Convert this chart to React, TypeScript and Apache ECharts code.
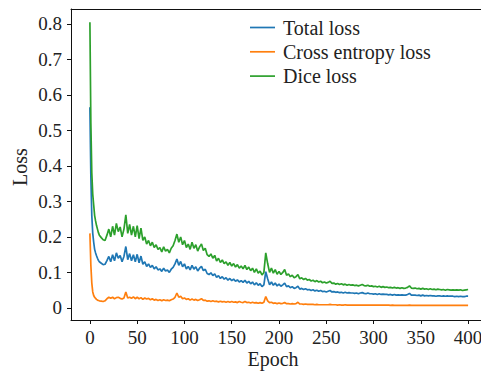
import React, { useEffect, useRef } from "react";
import * as echarts from "echarts";

const epochs = [
  0, 1, 2, 3, 4, 5, 6, 7, 8, 9, 10,
  12, 14, 16, 18, 20, 22, 24, 26, 28, 30,
  32, 34, 36, 38, 40, 42, 44, 46, 48, 50,
  52, 54, 56, 58, 60, 62, 64, 66, 68, 70,
  72, 74, 76, 78, 80, 82, 84, 86, 88, 90,
  92, 94, 96, 98, 100, 102, 104, 106, 108, 110,
  112, 114, 116, 118, 120, 122, 124, 126, 128, 130,
  132, 134, 136, 138, 140, 142, 144, 146, 148, 150,
  152, 154, 156, 158, 160, 162, 164, 166, 168, 170,
  172, 174, 176, 178, 180, 182, 184, 186, 188, 190,
  192, 194, 196, 198, 200, 202, 204, 206, 208, 210,
  212, 214, 216, 218, 220, 222, 224, 226, 228, 230,
  232, 234, 236, 238, 240, 242, 244, 246, 248, 250,
  252, 254, 256, 258, 260, 262, 264, 266, 268, 270,
  272, 274, 276, 278, 280, 282, 284, 286, 288, 290,
  292, 294, 296, 298, 300, 302, 304, 306, 308, 310,
  312, 314, 316, 318, 320, 322, 324, 326, 328, 330,
  332, 334, 336, 338, 340, 342, 344, 346, 348, 350,
  352, 354, 356, 358, 360, 362, 364, 366, 368, 370,
  372, 374, 376, 378, 380, 382, 384, 386, 388, 390,
  392, 394, 396, 398, 400,
];

const totalLoss = [
  0.565, 0.37, 0.26, 0.21, 0.185, 0.165, 0.155, 0.147, 0.14, 0.134, 0.13,
  0.126, 0.122, 0.123, 0.133, 0.145, 0.13, 0.15, 0.133, 0.155, 0.14,
  0.148, 0.13, 0.145, 0.173, 0.136, 0.153, 0.133, 0.15, 0.13, 0.151,
  0.127, 0.146, 0.123, 0.13, 0.117, 0.124, 0.114, 0.12, 0.11, 0.116,
  0.107, 0.11, 0.103, 0.112, 0.104, 0.107, 0.1, 0.109, 0.114, 0.124,
  0.138, 0.12, 0.131, 0.116, 0.124, 0.11, 0.117, 0.107, 0.12, 0.109,
  0.116, 0.104, 0.112, 0.117, 0.105, 0.109, 0.097, 0.094, 0.099, 0.091,
  0.096, 0.086, 0.091, 0.083, 0.088, 0.081, 0.085, 0.078, 0.083, 0.077,
  0.081, 0.075, 0.079, 0.073, 0.077, 0.072, 0.078, 0.07, 0.075, 0.068,
  0.073, 0.065, 0.071, 0.064, 0.068, 0.06, 0.065, 0.102, 0.082, 0.065,
  0.073, 0.064, 0.07, 0.062, 0.067, 0.061, 0.065, 0.07, 0.06, 0.062,
  0.057, 0.06, 0.055, 0.057, 0.061, 0.053, 0.055, 0.052, 0.054, 0.051,
  0.052, 0.049, 0.051, 0.048, 0.05, 0.047, 0.049, 0.046, 0.047, 0.045,
  0.047, 0.049, 0.045, 0.046, 0.044, 0.045, 0.043, 0.044, 0.042, 0.044,
  0.042, 0.043, 0.042, 0.042, 0.041, 0.042, 0.04, 0.042, 0.043, 0.041,
  0.04, 0.042, 0.04, 0.04, 0.039, 0.04, 0.038, 0.04, 0.038, 0.039,
  0.038, 0.038, 0.037, 0.038, 0.036, 0.038, 0.036, 0.037, 0.036, 0.037,
  0.036, 0.036, 0.038, 0.041, 0.036, 0.036, 0.036, 0.035, 0.036, 0.034,
  0.036, 0.034, 0.035, 0.034, 0.035, 0.034, 0.034, 0.033, 0.034, 0.034,
  0.033, 0.034, 0.033, 0.034, 0.033, 0.033, 0.033, 0.032, 0.033, 0.032,
  0.033, 0.032, 0.032, 0.033, 0.033,
];

const crossEntropyLoss = [
  0.21, 0.12, 0.07, 0.045, 0.035, 0.03, 0.027, 0.024, 0.022, 0.021, 0.02,
  0.019, 0.018, 0.02, 0.026, 0.03, 0.027, 0.03, 0.026, 0.029, 0.03,
  0.027, 0.025, 0.028, 0.045, 0.028, 0.03, 0.027, 0.031, 0.026, 0.03,
  0.026, 0.029, 0.024, 0.028, 0.025, 0.027, 0.023, 0.026, 0.022, 0.024,
  0.021, 0.023, 0.02, 0.023, 0.021, 0.022, 0.02, 0.023, 0.025, 0.03,
  0.042, 0.03, 0.033, 0.026, 0.028, 0.024, 0.026, 0.022, 0.025, 0.022,
  0.024, 0.021, 0.023, 0.026, 0.021, 0.022, 0.019, 0.02, 0.018, 0.02,
  0.018, 0.019, 0.017, 0.019, 0.017, 0.018, 0.016, 0.018, 0.016, 0.018,
  0.016, 0.017, 0.015, 0.018, 0.016, 0.015, 0.018, 0.015, 0.016, 0.014,
  0.016, 0.014, 0.015, 0.013, 0.015, 0.013, 0.016, 0.032, 0.02, 0.015,
  0.016, 0.013, 0.014, 0.012, 0.014, 0.012, 0.013, 0.015, 0.012, 0.012,
  0.011, 0.012, 0.011, 0.012, 0.016, 0.011, 0.011, 0.01, 0.011, 0.01,
  0.01, 0.01, 0.01, 0.009, 0.01, 0.009, 0.009, 0.009, 0.009, 0.009,
  0.009, 0.01, 0.009, 0.009, 0.009, 0.008, 0.009, 0.008, 0.008, 0.009,
  0.008, 0.008, 0.008, 0.008, 0.008, 0.008, 0.008, 0.008, 0.008, 0.008,
  0.008, 0.008, 0.008, 0.008, 0.008, 0.008, 0.008, 0.008, 0.008, 0.008,
  0.008, 0.008, 0.008, 0.007, 0.008, 0.007, 0.007, 0.007, 0.007, 0.007,
  0.007, 0.007, 0.007, 0.008, 0.007, 0.007, 0.007, 0.007, 0.007, 0.007,
  0.007, 0.007, 0.007, 0.007, 0.007, 0.007, 0.007, 0.007, 0.007, 0.007,
  0.007, 0.007, 0.007, 0.007, 0.007, 0.007, 0.007, 0.007, 0.007, 0.007,
  0.007, 0.007, 0.007, 0.007, 0.007,
];

const diceLoss = [
  0.805, 0.52, 0.38, 0.32, 0.29, 0.26, 0.245, 0.232, 0.222, 0.212, 0.205,
  0.198, 0.192, 0.19, 0.205, 0.222, 0.2, 0.23, 0.205, 0.238, 0.215,
  0.228, 0.2, 0.222, 0.262, 0.21, 0.235, 0.205, 0.23, 0.2, 0.232,
  0.195, 0.225, 0.19, 0.2, 0.18, 0.19, 0.175, 0.185, 0.17, 0.178,
  0.165, 0.17, 0.158, 0.172, 0.16, 0.165, 0.155, 0.168, 0.175, 0.19,
  0.208, 0.185, 0.2, 0.178, 0.19, 0.17, 0.18, 0.165, 0.185, 0.168,
  0.178, 0.16, 0.172, 0.18, 0.162, 0.168, 0.15, 0.145, 0.152, 0.14,
  0.148, 0.132, 0.14, 0.128, 0.135, 0.125, 0.13, 0.12, 0.128, 0.118,
  0.125, 0.115, 0.122, 0.112, 0.118, 0.11, 0.12, 0.108, 0.115, 0.105,
  0.112, 0.1, 0.11, 0.098, 0.104, 0.093, 0.1, 0.155, 0.125, 0.1,
  0.112, 0.098, 0.108, 0.095, 0.103, 0.094, 0.1, 0.108, 0.092, 0.096,
  0.088, 0.092, 0.085, 0.088, 0.094, 0.082, 0.085, 0.08, 0.083, 0.078,
  0.08, 0.076, 0.078, 0.074, 0.077, 0.073, 0.075, 0.071, 0.073, 0.07,
  0.072, 0.075, 0.069, 0.07, 0.067, 0.069, 0.066, 0.068, 0.065, 0.067,
  0.064, 0.066, 0.064, 0.065, 0.063, 0.064, 0.062, 0.064, 0.066, 0.063,
  0.062, 0.064, 0.061, 0.062, 0.06, 0.061, 0.059, 0.061, 0.058, 0.06,
  0.058, 0.059, 0.057, 0.058, 0.056, 0.058, 0.056, 0.057, 0.055, 0.057,
  0.055, 0.056, 0.058, 0.062, 0.056, 0.055, 0.056, 0.054, 0.055, 0.053,
  0.055, 0.053, 0.054, 0.052, 0.054, 0.052, 0.053, 0.051, 0.053, 0.052,
  0.051, 0.052, 0.05, 0.052, 0.051, 0.05, 0.051, 0.05, 0.051, 0.05,
  0.051, 0.049, 0.05, 0.051, 0.052,
];

const xTicks = [0, 50, 100, 150, 200, 250, 300, 350, 400];
const yTicks = [0, 0.1, 0.2, 0.3, 0.4, 0.5, 0.6, 0.7, 0.8];
const seriesNames = ["Total loss", "Cross entropy loss", "Dice loss"];
const colors = ["#1f77b4", "#ff7f0e", "#2ca02c"];

const FONT = "'Liberation Serif', 'Times New Roman', serif";

export default function App() {
  const ref = useRef<HTMLDivElement>(null);

  useEffect(() => {
    if (!ref.current) return;
    const chart = echarts.init(ref.current, undefined, { renderer: "svg" });
    const pairs = (vals: number[]) => epochs.map((e, i) => [e, vals[i]]);
    const allValues = [totalLoss, crossEntropyLoss, diceLoss];
    const axisLineStyle = { color: "#111", width: 1 };

    const legendGraphics: any[] = [];
    seriesNames.forEach((name, i) => {
      const y = 27.5 + i * 24.3;
      legendGraphics.push({
        type: "line",
        shape: { x1: 250, y1: y, x2: 275, y2: y },
        style: { stroke: colors[i], lineWidth: 1.7 },
        z: 10,
      });
      legendGraphics.push({
        type: "text",
        x: 283,
        y: y,
        z: 10,
        style: {
          text: name,
          fontFamily: FONT,
          fontSize: 20,
          fill: "#222",
          textAlign: "left",
          textVerticalAlign: "middle",
        },
      });
    });

    chart.setOption({
      animation: false,
      backgroundColor: "#ffffff",
      grid: {
        left: 71,
        top: 9,
        width: 416,
        height: 311,
        show: false,
        containLabel: false,
        outerBoundsMode: "none",
      },
      xAxis: [
        {
          type: "value",
          min: -20,
          max: 420,
          position: "bottom",
          axisLine: { show: true, onZero: false, lineStyle: axisLineStyle },
          axisTick: {
            show: true,
            length: 4,
            inside: false,
            customValues: xTicks,
            lineStyle: { color: "#111" },
          },
          axisLabel: {
            customValues: xTicks,
            fontFamily: FONT,
            fontSize: 19,
            color: "#222",
            margin: 8,
          },
          splitLine: { show: false },
        },
        {
          type: "value",
          min: -20,
          max: 420,
          position: "top",
          axisLine: { show: true, onZero: false, lineStyle: axisLineStyle },
          axisTick: { show: false },
          axisLabel: { show: false },
          splitLine: { show: false },
        },
      ],
      yAxis: {
        type: "value",
        min: -0.034,
        max: 0.842,
        axisLine: { show: true, onZero: false, lineStyle: axisLineStyle },
        axisTick: {
          show: true,
          length: 4,
          inside: false,
          customValues: yTicks,
          lineStyle: { color: "#111" },
        },
        axisLabel: {
          customValues: yTicks,
          fontFamily: FONT,
          fontSize: 19,
          color: "#222",
          margin: 9,
          formatter: (v: number) => (Math.abs(v) < 1e-9 ? "0" : String(Math.round(v * 10) / 10)),
        },
        splitLine: { show: false },
      },
      graphic: [
        {
          type: "text",
          x: 273,
          y: 359,
          style: {
            text: "Epoch",
            fontFamily: FONT,
            fontSize: 20,
            fill: "#222",
            textAlign: "center",
            textVerticalAlign: "middle",
          },
        },
        {
          type: "text",
          x: 20,
          y: 167,
          rotation: Math.PI / 2,
          style: {
            text: "Loss",
            fontFamily: FONT,
            fontSize: 20,
            fill: "#222",
            textAlign: "center",
            textVerticalAlign: "middle",
          },
        },
        ...legendGraphics,
      ],
      series: seriesNames.map((name, i) => ({
        name,
        type: "line",
        xAxisIndex: 0,
        data: pairs(allValues[i]),
        symbol: "none",
        showSymbol: false,
        lineStyle: { color: colors[i], width: 1.7 },
        itemStyle: { color: colors[i] },
        z: 2 + i,
      })),
    });

    return () => chart.dispose();
  }, []);

  return (
    <div
      ref={ref}
      style={{ position: "fixed", left: 0, top: 0, width: 481, height: 371 }}
    />
  );
}
